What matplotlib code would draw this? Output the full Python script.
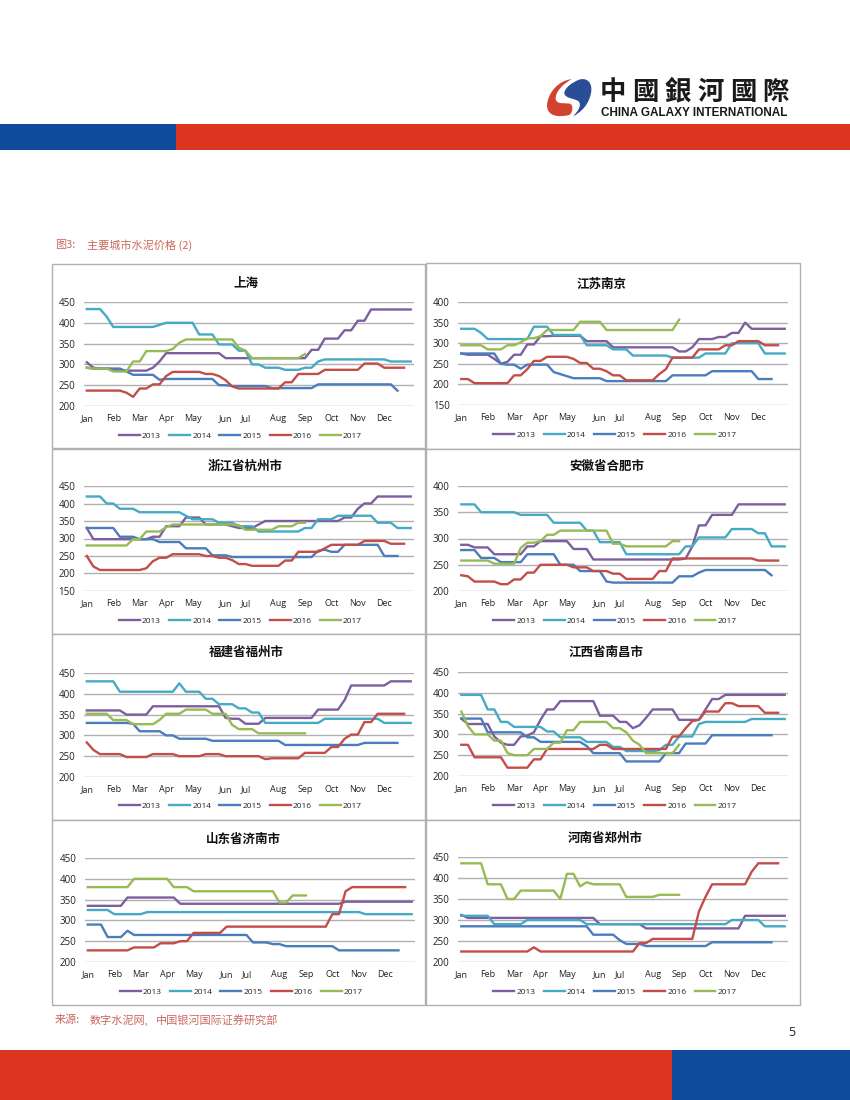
import numpy as np
import matplotlib
matplotlib.use("Agg")
import matplotlib.pyplot as plt
from matplotlib.patches import Rectangle, PathPatch
from matplotlib.path import Path

CJK = ['Noto Sans CJK SC', 'DejaVu Sans']
LATIN = 'Open Sans'

months = ['Jan', 'Feb', 'Mar', 'Apr', 'May', 'Jun', 'Jul', 'Aug', 'Sep', 'Oct', 'Nov', 'Dec']
month_pos = [0, 4, 8, 12, 16, 21, 24, 29, 33, 37, 41, 45]
years = ['2013', '2014', '2015', '2016', '2017']
year_colors = ['#7D5FA0', '#45AAC4', '#4A7DBB', '#C24D49', '#98BA55']

sh_2013 = [305,292,290,290,288,285,285,285,285,285,
           292,307,327,327,327,327,327,327,327,327,
           327,315,315,315,315,315,315,315,315,315,
           315,315,315,315,335,335,362,362,362,382,
           382,405,405,432,432,432,432,432,432,432]
sh_2014 = [433,433,433,415,390,390,390,390,390,390,
           390,395,400,400,400,400,400,372,372,372,
           348,348,348,333,333,300,300,292,292,292,
           287,287,287,292,292,307,312,312,312,312,
           312,312,312,312,312,312,307,307,307,307]
sh_2015 = [292,290,290,290,290,290,283,275,275,275,
           275,263,265,265,265,265,265,265,265,265,
           250,250,248,248,248,248,248,248,243,243,
           243,243,243,243,243,252,252,252,252,252,
           252,252,252,252,252,252,252,237]
sh_2016 = [237,237,237,237,237,237,232,222,242,242,
           252,252,272,282,282,282,282,282,277,277,
           272,262,247,242,242,242,242,242,242,242,
           257,257,277,277,277,277,287,287,287,287,
           287,287,302,302,302,292,292,292,292]
sh_2017 = [292,290,290,290,283,283,283,307,307,332,
           332,332,332,337,352,360,360,360,360,360,
           360,360,360,340,333,315,315,315,315,315,
           315,315,315,325]

nj_2013 = [275,272,272,272,272,262,250,255,272,272,
           297,297,317,317,318,318,318,318,318,305,
           305,305,305,290,290,290,290,290,290,290,
           290,290,290,280,280,290,310,310,310,315,
           315,325,325,350,335,335,335,335,335,335]
nj_2014 = [335,335,335,325,310,310,310,310,310,310,
           310,340,340,340,320,320,320,320,320,295,
           295,295,295,285,285,285,270,270,270,270,
           270,270,265,265,265,265,265,275,275,275,
           275,300,300,300,300,300,275,275,275,275]
nj_2015 = [275,275,275,275,275,275,250,248,248,238,
           248,248,248,248,230,225,220,215,215,215,
           215,215,208,208,208,208,208,208,208,208,
           208,208,222,222,222,222,222,222,232,232,
           232,232,232,232,232,213,213,213]
nj_2016 = [213,213,203,203,203,203,203,203,222,222,
           237,257,257,267,267,267,267,262,252,252,
           238,238,232,222,222,210,210,210,210,210,
           225,237,265,265,265,265,285,285,285,285,
           295,295,305,305,305,305,295,295,295]
nj_2017 = [295,295,295,295,285,285,285,295,295,302,
           312,312,317,332,332,332,332,332,352,352,
           352,352,332,332,332,332,332,332,332,332,
           332,332,332,357]

hz_2013 = [330,298,298,298,298,298,298,298,298,298,
           305,305,335,335,335,360,360,360,340,340,
           340,340,335,330,330,330,340,350,350,350,
           350,350,350,350,350,350,350,350,350,360,
           360,385,400,400,420,420,420,420,420,420]
hz_2014 = [420,420,420,400,400,385,385,385,375,375,
           375,375,375,375,375,365,355,355,355,355,
           345,345,345,335,335,335,320,320,320,320,
           320,320,320,330,330,355,355,355,365,365,
           365,365,365,365,345,345,345,330,330,330]
hz_2015 = [330,330,330,330,330,305,305,305,298,298,
           298,290,290,290,290,272,272,272,272,252,
           252,252,247,247,247,247,247,247,247,247,
           247,247,247,247,247,265,268,262,262,282,
           282,282,282,282,282,250,250,250]
hz_2016 = [250,220,210,210,210,210,210,210,210,215,
           235,245,245,255,255,255,255,255,250,250,
           245,245,238,227,227,222,222,222,222,222,
           237,237,262,262,262,262,272,282,282,282,
           282,282,293,293,293,293,285,285,285]
hz_2017 = [280,280,280,280,280,280,280,298,298,320,
           320,320,332,340,340,340,340,340,340,340,
           340,340,340,338,325,325,325,325,325,335,
           335,335,345,345]

hf_2013 = [288,288,283,283,283,270,270,270,270,270,
           285,285,295,295,295,295,295,280,280,280,
           260,260,260,260,260,260,260,260,260,260,
           260,260,260,260,262,285,325,325,345,345,
           345,345,365,365,365,365,365,365,365,365]
hf_2014 = [365,365,365,350,350,350,350,350,350,345,
           345,345,345,345,330,330,330,330,330,315,
           315,293,293,293,293,270,270,270,270,270,
           270,270,270,270,285,285,302,302,302,302,
           302,318,318,318,318,310,310,285,285,285]
hf_2015 = [278,278,278,263,263,263,255,255,255,255,
           270,270,270,270,270,250,250,250,238,238,
           238,238,218,216,216,216,216,216,216,216,
           216,216,216,228,228,228,235,240,240,240,
           240,240,240,240,240,240,240,230]
hf_2016 = [230,228,218,218,218,218,213,213,222,222,
           235,235,250,250,250,250,250,245,245,245,
           238,238,238,233,233,223,223,223,223,223,
           238,238,262,262,262,262,262,262,262,262,
           262,262,262,262,262,258,258,258,258]
hf_2017 = [258,258,258,258,258,252,252,252,252,282,
           292,292,295,307,307,315,315,315,315,315,
           315,315,315,290,290,285,285,285,285,285,
           285,285,295,295]

fz_2013 = [360,360,360,360,360,360,350,350,350,350,
           370,370,370,370,370,370,370,370,370,370,
           370,342,340,340,328,328,328,342,342,342,
           342,342,342,342,342,362,362,362,362,385,
           420,420,420,420,420,420,430,430,430,430]
fz_2014 = [430,430,430,430,430,405,405,405,405,405,
           405,405,405,405,425,405,405,405,388,388,
           375,375,375,365,365,355,355,330,330,330,
           330,330,330,330,330,330,340,340,340,340,
           340,340,340,340,340,330,330,330,330,330]
fz_2015 = [330,330,330,330,330,330,330,328,310,310,
           310,310,300,300,292,292,292,292,292,287,
           287,287,287,287,287,287,287,287,287,287,
           277,277,277,277,277,277,277,277,277,277,
           277,277,282,282,282,282,282,282]
fz_2016 = [283,265,255,255,255,255,248,248,248,248,
           255,255,255,255,250,250,250,250,255,255,
           255,250,250,250,250,250,250,243,245,245,
           245,245,245,258,258,258,258,272,272,292,
           302,302,332,332,352,352,352,352,352]
fz_2017 = [352,352,352,352,337,337,337,327,327,327,
           327,337,352,352,352,362,362,362,362,352,
           352,352,325,315,315,315,305,305,305,305,
           305,305,305,305]

nc_2013 = [338,325,325,325,325,295,280,275,275,295,
           297,305,335,360,360,380,380,380,380,380,
           380,345,345,345,330,330,315,322,340,360,
           360,360,360,335,335,335,335,360,385,385,
           395,395,395,395,395,395,395,395,395,395]
nc_2014 = [395,395,395,395,360,360,330,330,318,318,
           318,318,318,307,307,293,293,293,293,282,
           282,282,282,270,270,260,260,260,260,260,
           262,275,275,295,295,295,325,330,330,330,
           330,330,330,330,337,337,337,337,337,337]
nc_2015 = [338,338,338,338,305,305,305,305,305,305,
           293,293,282,282,282,282,282,282,282,272,
           255,255,255,255,255,235,235,235,235,235,
           235,255,255,255,278,278,278,278,298,298,
           298,298,298,298,298,298,298,298]
nc_2016 = [275,275,245,245,245,245,245,220,220,220,
           220,240,240,265,265,265,265,265,265,265,
           265,275,275,265,265,265,265,265,265,265,
           265,265,295,295,315,332,335,355,355,355,
           375,375,368,368,368,368,352,352,352]
nc_2017 = [355,320,300,300,300,285,285,255,250,250,
           250,265,265,265,280,280,310,310,330,330,
           330,330,330,315,315,305,285,275,255,255,
           255,255,255,275]

jn_2013 = [335,335,335,335,335,335,355,355,355,355,
           355,355,355,355,340,340,340,340,340,340,
           340,340,340,340,340,340,340,340,340,340,
           340,340,340,340,340,340,340,340,340,345,
           345,345,345,345,345,345,345,345,345,345]
jn_2014 = [325,325,325,325,315,315,315,315,315,320,
           320,320,320,320,320,320,320,320,320,320,
           320,320,320,320,320,320,320,320,320,320,
           320,320,320,320,320,320,320,320,320,320,
           320,320,315,315,315,315,315,315,315,315]
jn_2015 = [290,290,290,260,260,260,275,265,265,265,
           265,265,265,265,265,265,265,265,265,265,
           265,265,265,265,265,247,247,247,243,243,
           238,238,238,238,238,238,238,238,228,228,
           228,228,228,228,228,228,228,228]
jn_2016 = [228,228,228,228,228,228,228,235,235,235,
           235,245,245,245,250,250,270,270,270,270,
           270,285,285,285,285,285,285,285,285,285,
           285,285,285,285,285,285,285,315,315,370,
           380,380,380,380,380,380,380,380,380]
jn_2017 = [380,380,380,380,380,380,380,400,400,400,
           400,400,400,380,380,380,370,370,370,370,
           370,370,370,370,370,370,370,370,370,343,
           343,360,360,360]

zz_2013 = [312,305,305,305,305,305,305,305,305,305,
           305,305,305,305,305,305,305,305,305,305,
           305,290,290,290,290,290,290,290,280,280,
           280,280,280,280,280,280,280,280,280,280,
           280,280,280,310,310,310,310,310,310,310]
zz_2014 = [310,310,310,310,310,290,290,290,290,290,
           300,300,300,300,300,300,300,300,300,290,
           290,290,290,290,290,290,290,290,290,290,
           290,290,290,290,290,290,290,290,290,290,
           290,300,300,300,300,300,285,285,285,285]
zz_2015 = [285,285,285,285,285,285,285,285,285,285,
           285,285,285,285,285,285,285,285,285,285,
           265,265,265,265,252,243,243,243,238,238,
           238,238,238,238,238,238,238,238,247,247,
           247,247,247,247,247,247,247,247]
zz_2016 = [225,225,225,225,225,225,225,225,225,225,
           225,235,225,225,225,225,225,225,225,225,
           225,225,225,225,225,225,225,245,245,255,
           255,255,255,255,255,255,320,355,385,385,
           385,385,385,385,415,435,435,435,435]
zz_2017 = [435,435,435,435,385,385,385,350,350,370,
           370,370,370,370,370,350,410,410,380,390,
           385,385,385,385,385,355,355,355,355,355,
           360,360,360,360]

titles = ['上海', '江苏南京', '浙江省杭州市', '安徽省合肥市',
          '福建省福州市', '江西省南昌市', '山东省济南市', '河南省郑州市']
yticks = [[200, 250, 300, 350, 400, 450], [150, 200, 250, 300, 350, 400],
          [150, 200, 250, 300, 350, 400, 450], [200, 250, 300, 350, 400],
          [200, 250, 300, 350, 400, 450], [200, 250, 300, 350, 400, 450],
          [200, 250, 300, 350, 400, 450], [200, 250, 300, 350, 400, 450]]
series = [[sh_2013, sh_2014, sh_2015, sh_2016, sh_2017],
          [nj_2013, nj_2014, nj_2015, nj_2016, nj_2017],
          [hz_2013, hz_2014, hz_2015, hz_2016, hz_2017],
          [hf_2013, hf_2014, hf_2015, hf_2016, hf_2017],
          [fz_2013, fz_2014, fz_2015, fz_2016, fz_2017],
          [nc_2013, nc_2014, nc_2015, nc_2016, nc_2017],
          [jn_2013, jn_2014, jn_2015, jn_2016, jn_2017],
          [zz_2013, zz_2014, zz_2015, zz_2016, zz_2017]]

# page geometry in pixels: box (x0, y0, x1, y1), plot (left, top, right, bottom)
boxes = [(52, 264, 425, 448), (426, 263, 800, 449),
         (52, 449, 425, 634), (426, 449, 800, 634),
         (52, 634, 425, 820), (426, 634, 800, 820),
         (52, 820, 425, 1005), (426, 820, 800, 1005)]
plots = [(83.5, 302, 414, 406), (458, 302, 788, 405),
         (83.5, 486, 414, 591), (458, 486, 788, 591),
         (83.5, 673, 414, 777), (458, 672, 788, 776),
         (84.5, 858, 415, 962), (458, 857, 788, 962)]
title_x = [246, 602, 245.5, 607, 246, 606, 243, 605]
title_y = [284, 284, 466, 466, 652, 652, 839, 838]
legend_x = [240.5, 615, 240.5, 615, 240.5, 615, 241.5, 615]
legend_y = [436, 435, 621, 621, 806, 806, 992, 992]

W, H = 850, 1100
fig = plt.figure(figsize=(W / 100, H / 100), dpi=100, facecolor='white')
bg = fig.add_axes([0, 0, 1, 1], zorder=0)
bg.set_xlim(0, W)
bg.set_ylim(H, 0)
bg.axis('off')

RED, BLUE = '#DC3520', '#0F4C9C'
bg.add_patch(Rectangle((0, 124), 176, 26, fc=BLUE, ec='none'))
bg.add_patch(Rectangle((176, 124), 674, 26, fc=RED, ec='none'))
bg.add_patch(Rectangle((0, 1050), 672, 50, fc=RED, ec='none'))
bg.add_patch(Rectangle((672, 1050), 178, 50, fc=BLUE, ec='none'))


def logo_xy(pts):
    return [(540.7 + 0.288 * x, 69 + 0.376 * y) for x, y in pts]


c4 = Path.CURVE4
red_pts = [(108, 27), (60, 30), (25, 65), (22, 95), (20, 125), (60, 130), (100, 122),
           (112, 115), (115, 95), (100, 92), (85, 90), (55, 95), (52, 80),
           (50, 60), (80, 38), (108, 27)]
blue_pts = [(135, 28), (165, 22), (180, 40), (175, 62), (168, 95), (140, 115), (112, 126),
            (130, 112), (145, 95), (130, 85), (115, 78), (85, 78), (82, 65),
            (82, 50), (110, 35), (135, 28)]
codes = [Path.MOVETO] + [c4] * 15
bg.add_patch(PathPatch(Path(logo_xy(red_pts), codes), fc='#D2432F', ec='none'))
bg.add_patch(PathPatch(Path(logo_xy(blue_pts), codes), fc='#2B4C96', ec='none'))

for ch, cx in zip('中國銀河國際', [613, 645.5, 678, 710.5, 743, 775]):
    bg.text(cx, 92.5, ch, ha='center', va='center', fontsize=19, fontweight='bold',
            family=['Noto Sans CJK TC', 'DejaVu Sans'], color='#1A1A1A')
bg.text(601, 113, 'CHINA GALAXY INTERNATIONAL', ha='left', va='center', fontsize=8.5,
        fontweight='bold', family='Liberation Sans', color='#1A1A1A')

caption_color = '#C9695E'
bg.text(55, 245, '图3:', ha='left', va='center', fontsize=8, family=CJK, color=caption_color)
bg.text(87.5, 245, '主要城市水泥价格 (2)', ha='left', va='center', fontsize=8, family=CJK,
        color=caption_color)
bg.text(55, 1020, '来源:', ha='left', va='center', fontsize=8, family=CJK, color=caption_color)
bg.text(90, 1020, '数字水泥网,', ha='left', va='center', fontsize=8, family=CJK, color=caption_color)
bg.text(156, 1020, '中国银河国际证券研究部', ha='left', va='center', fontsize=8, family=CJK,
        color=caption_color)
bg.text(792, 1032, '5', ha='center', va='center', fontsize=9, family=LATIN, color='#222222')

for box in boxes:
    bg.add_patch(Rectangle((box[0], box[1]), box[2] - box[0], box[3] - box[1],
                           fc='white', ec='#B0B0B0', lw=1.0))

for i in range(8):
    left, top, right, bottom = plots[i]
    ax = fig.add_axes([left / W, 1 - bottom / H, (right - left) / W, (bottom - top) / H],
                      zorder=1)
    ax.patch.set_alpha(0)
    handles = []
    for values, name, color in zip(series[i], years, year_colors):
        line, = ax.plot(np.arange(len(values)), values, color=color, lw=1.7, label=name,
                        solid_joinstyle='round', clip_on=False, zorder=3)
        handles.append(line)
    ax.set_xlim(-0.5, 49.5)
    ax.set_ylim(yticks[i][0], yticks[i][-1])
    ax.set_yticks(yticks[i])
    ax.set_xticks(month_pos)
    ax.set_xticklabels(months)
    ax.grid(axis='y', color='#B0B0B0', lw=1.0, zorder=1)
    ax.set_axisbelow(True)
    for s in ax.spines.values():
        s.set_visible(False)
    ax.tick_params(axis='both', length=0, labelcolor='#222222')
    ax.tick_params(axis='x', pad=11, labelsize=6.5)
    ax.tick_params(axis='y', pad=6, labelsize=7)
    for t in ax.get_xticklabels():
        t.set_family(LATIN)
        t.set_verticalalignment('baseline')
    for t in ax.get_yticklabels():
        t.set_family(LATIN)
    bg.text(title_x[i], title_y[i], titles[i], ha='center', va='center', fontsize=9,
            fontweight='bold', family=CJK, color='#111111')
    leg = ax.legend(handles=handles, ncol=5, loc='center', frameon=False,
                    bbox_to_anchor=(legend_x[i] / W, 1 - legend_y[i] / H),
                    bbox_transform=fig.transFigure, handlelength=2.5, handletextpad=0.25,
                    columnspacing=1.0, borderpad=0,
                    prop={'family': LATIN, 'size': 6})
    for t in leg.get_texts():
        t.set_color('#222222')

fig.savefig('out.png', dpi=100)
